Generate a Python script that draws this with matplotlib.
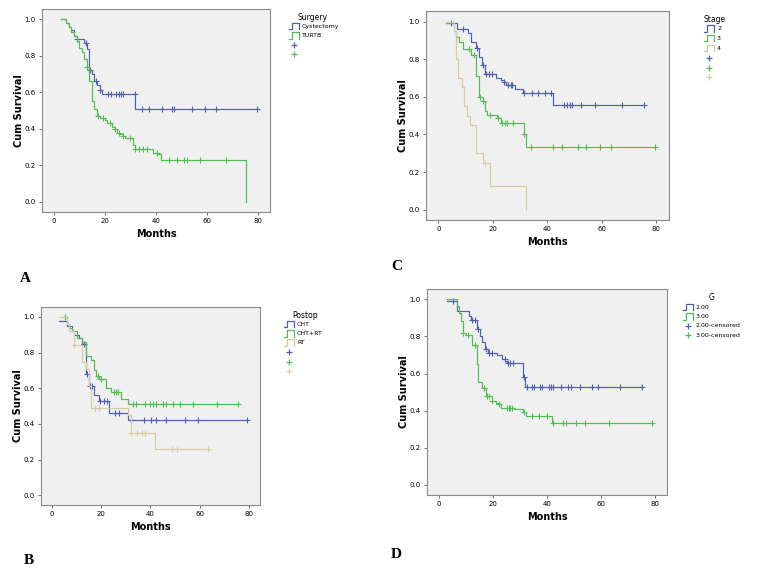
"""
Kaplan-Meier survival curves, four panels in SPSS style.
"""

import matplotlib

matplotlib.use("Agg")
import matplotlib.pyplot as plt
import numpy as np
from matplotlib.lines import Line2D

W, H = 760, 573

BLUE = "#4e5fb0"
GREEN = "#52bb52"
TAN = "#d6cba3"

# --- A: Surgery ---
a_cyst_t = [3, 5, 6, 7, 8, 9, 12, 13, 14, 15, 16, 17, 18, 19, 32]
a_cyst_s = [1.0, 0.98, 0.96, 0.94, 0.91, 0.89, 0.87, 0.835, 0.72, 0.70, 0.66, 0.64, 0.61, 0.59, 0.51]
a_cyst_end = 79
a_cyst_cens = [9, 12.5, 14.1, 16.5, 18, 21.3, 22.4, 24.6, 25.5, 26.3, 27, 31.8,
               34.4, 37.3, 42.2, 46.2, 47.1, 54.2, 59.2, 63.4, 79.5]

a_turb_t = [3, 5, 6, 7, 8, 9, 10, 11, 12, 13, 14, 15, 16, 17, 18, 20, 21, 23, 24,
            25, 26, 27, 28, 31, 32, 39, 41, 42, 75.3]
a_turb_s = [1.0, 0.98, 0.96, 0.93, 0.91, 0.88, 0.84, 0.82, 0.78, 0.74, 0.66, 0.55, 0.51,
            0.47, 0.46, 0.45, 0.43, 0.41, 0.40, 0.38, 0.37, 0.36, 0.35, 0.31, 0.29, 0.27,
            0.26, 0.23, 0.0]
a_turb_end = 75.3
a_turb_cens = [13, 17.4, 19.3, 22, 24, 25.5, 27, 30, 32, 33.5, 35, 36.6, 40.5,
               45.2, 48.1, 51.1, 52, 57.3, 67.5]

# --- B: Postop ---
b_cht_t = [3, 6, 8, 9, 11, 12, 14, 15, 17, 19, 23, 31]
b_cht_s = [0.98, 0.95, 0.92, 0.90, 0.88, 0.85, 0.68, 0.61, 0.56, 0.53, 0.46, 0.42]
b_cht_end = 79.4
b_cht_cens = [13, 14.4, 15.3, 16.4, 19.4, 21, 22.5, 25.5, 27.1, 32.2, 37.3, 40.4,
              42.2, 46.5, 54.1, 59.2, 79.4]

b_chtrt_t = [4, 6, 7, 8, 10, 12, 14, 16, 17, 18, 19, 22, 24, 28, 31]
b_chtrt_s = [1.0, 0.96, 0.94, 0.92, 0.88, 0.86, 0.78, 0.76, 0.70, 0.67, 0.65, 0.60, 0.58, 0.54, 0.51]
b_chtrt_end = 75.5
b_chtrt_cens = [5.2, 18.5, 20, 25, 26, 27, 33, 34.3, 37.7, 40, 41, 42.4, 45.1, 46.5,
                49.2, 52, 57.2, 67.2, 75.5]

b_rt_t = [3, 6, 7, 9, 12, 14, 15, 16, 31, 32, 42]
b_rt_s = [1.0, 0.96, 0.92, 0.84, 0.75, 0.71, 0.61, 0.49, 0.45, 0.35, 0.26]
b_rt_end = 63.5
b_rt_cens = [9, 17.4, 19, 32, 34.4, 36.4, 38, 48.7, 50.9, 63.5]

# --- C: Stage ---
c_s2_t = [3, 7, 11, 12, 14, 15, 16, 17, 21, 23, 24, 25, 28, 31, 42.1]
c_s2_s = [0.99, 0.96, 0.94, 0.89, 0.86, 0.81, 0.77, 0.72, 0.70, 0.69, 0.68, 0.665, 0.64, 0.62, 0.555]
c_s2_end = 75.6
c_s2_cens = [4.7, 8.9, 14.2, 16.3, 17.5, 18.6, 19.6, 24.2, 25.7, 26.5, 27.2, 31.6,
             34.5, 36.5, 39.2, 41.4, 46.2, 47.2, 48.2, 49.2, 52.4, 57.4, 67.4, 75.6]

c_s3_t = [3, 5.6, 6.5, 7.7, 9, 12.1, 13.8, 15, 16.3, 17.1, 18, 21.4, 22.9, 31.3, 32.2]
c_s3_s = [0.99, 0.95, 0.917, 0.89, 0.855, 0.82, 0.713, 0.60, 0.58, 0.527, 0.504, 0.486,
          0.46, 0.40, 0.335]
c_s3_end = 79.4
c_s3_cens = [11.1, 13, 15.2, 16.4, 19, 21.8, 23.4, 24.3, 25.2, 27.3, 31.6, 34,
             42.1, 45.4, 51.3, 54.2, 59.2, 63.4, 79.4]

c_s4_t = [3, 5.6, 6.5, 7.3, 8.6, 9.3, 10.7, 11.7, 13.8, 16.3, 19.1, 32.2]
c_s4_s = [1.0, 0.95, 0.80, 0.70, 0.65, 0.55, 0.50, 0.45, 0.30, 0.25, 0.125, 0.0]
c_s4_end = 32.2
c_s4_cens = [17.1]

# --- D: G ---
d_g2_t = [3, 6.5, 11, 12, 14, 15.2, 16.1, 17.1, 18, 21.4, 23.2, 24.5, 25.1, 31, 32]
d_g2_s = [0.99, 0.94, 0.91, 0.89, 0.84, 0.80, 0.77, 0.735, 0.713, 0.70, 0.68, 0.67,
          0.655, 0.584, 0.528]
d_g2_end = 75.3
d_g2_cens = [5.3, 12.3, 13.2, 14.4, 17.4, 18.6, 19.5, 24.4, 25.6, 26.4, 27.3, 31.4,
             32.5, 34.3, 35.2, 37.4, 38.3, 40.7, 41.7, 42.3, 45.1, 47.9, 48.8, 52.2,
             56.9, 59, 67, 75.3]

d_g3_t = [3, 6.5, 7.2, 8.1, 9, 10, 12.1, 14, 14.6, 16.1, 17.3, 19.5, 21, 22, 23.1,
          27.8, 31, 32.2, 41.9]
d_g3_s = [1.0, 0.966, 0.926, 0.885, 0.818, 0.807, 0.753, 0.65, 0.555, 0.524, 0.479,
          0.45, 0.443, 0.434, 0.416, 0.407, 0.395, 0.371, 0.331]
d_g3_end = 79.1
d_g3_cens = [9, 10.9, 13.3, 16.6, 17.6, 18.4, 19.8, 22.3, 25.3, 25.9, 26.4, 26.9,
             31.4, 34.3, 37, 40, 42.1, 46, 47, 51, 54.1, 63.1, 79.1]


def fx(x):
    return x / W


def fy(y):
    return 1 - y / H


def km_panel(ax, curves):
    """Draw step curves with censor ticks, SPSS-like frame."""
    ax.set_facecolor("#f0f0f0")
    for t, s, end, cens, color in curves:
        tt = list(t) + [end]
        ss = list(s) + [s[-1]]
        ax.step(tt, ss, where="post", color=color, lw=0.85)
        idx = np.searchsorted(t, cens, side="right") - 1
        cy = np.array(s)[np.clip(idx, 0, None)]
        ax.plot(cens, cy, ls="none", marker="+", ms=4, mew=0.8, color=color)
    ax.set_xlim(-4.5, 84.6)
    ax.set_ylim(-0.055, 1.056)
    ax.set_xticks([0, 20, 40, 60, 80])
    ax.set_yticks([0.0, 0.2, 0.4, 0.6, 0.8, 1.0])
    ax.set_yticklabels(["0.0", "0.2", "0.4", "0.6", "0.8", "1.0"])
    ax.tick_params(labelsize=5, length=2.5, width=0.6, color="#555555", pad=2)
    for sp in ax.spines.values():
        sp.set_color("#8a8a8a")
        sp.set_linewidth(0.8)
    ax.set_xlabel("Months", fontsize=7, fontweight="bold", labelpad=3.5)
    ax.set_ylabel("Cum Survival", fontsize=7, fontweight="bold", labelpad=0.5)


def legend(fig, x, y, title, rows, step=9.5, title_x=None):
    """SPSS-style legend: step glyphs for lines, plus marks for censored."""
    tx = x + 8 if title_x is None else title_x
    fig.text(fx(tx), fy(y), title, fontsize=5.5, va="center", ha="left")
    for i, (kind, color, label) in enumerate(rows):
        yy = y + (i + 1) * step
        if kind == "line":
            xs = [x, x + 3, x + 3, x + 10, x + 10]
            ys = [yy + 3, yy + 3, yy - 3.5, yy - 3.5, yy + 3]
            fig.add_artist(Line2D([fx(v) for v in xs], [fy(v) for v in ys],
                                  color=color, lw=0.9, transform=fig.transFigure))
        else:
            fig.add_artist(Line2D([fx(x + 5)], [fy(yy)], marker="+", ms=5, mew=0.9,
                                  color=color, ls="none", transform=fig.transFigure))
        if label:
            fig.text(fx(x + 13), fy(yy), label, fontsize=4.5, va="center", ha="left")


fig = plt.figure(figsize=(W / 100, H / 100), dpi=100)
fig.patch.set_facecolor("white")


def add_axes(x0, y0, x1, y1):
    return fig.add_axes([fx(x0), fy(y1), (x1 - x0) / W, (y1 - y0) / H])


ax_a = add_axes(42, 9, 270, 212)
km_panel(ax_a, [
    (a_cyst_t, a_cyst_s, a_cyst_end, a_cyst_cens, BLUE),
    (a_turb_t, a_turb_s, a_turb_end, a_turb_cens, GREEN),
])
legend(fig, 289, 17, "Surgery", [
    ("line", BLUE, "Cystectomy"), ("line", GREEN, "TURTB"),
    ("cens", BLUE, ""), ("cens", GREEN, ""),
], step=9.3)

ax_c = add_axes(426, 11, 669, 220)
km_panel(ax_c, [
    (c_s2_t, c_s2_s, c_s2_end, c_s2_cens, BLUE),
    (c_s3_t, c_s3_s, c_s3_end, c_s3_cens, GREEN),
    (c_s4_t, c_s4_s, c_s4_end, c_s4_cens, TAN),
])
legend(fig, 704, 19, "Stage", [
    ("line", BLUE, "2"), ("line", GREEN, "3"), ("line", TAN, "4"),
    ("cens", BLUE, ""), ("cens", GREEN, ""), ("cens", TAN, ""),
], step=9.7, title_x=703)

ax_b = add_axes(41, 307, 260, 505)
km_panel(ax_b, [
    (b_cht_t, b_cht_s, b_cht_end, b_cht_cens, BLUE),
    (b_chtrt_t, b_chtrt_s, b_chtrt_end, b_chtrt_cens, GREEN),
    (b_rt_t, b_rt_s, b_rt_end, b_rt_cens, TAN),
])
legend(fig, 284, 315, "Postop", [
    ("line", BLUE, "CHT"), ("line", GREEN, "CHT+RT"), ("line", TAN, "RT"),
    ("cens", BLUE, ""), ("cens", GREEN, ""), ("cens", TAN, ""),
], step=9.3)

ax_d = add_axes(427, 289, 667, 495)
km_panel(ax_d, [
    (d_g2_t, d_g2_s, d_g2_end, d_g2_cens, BLUE),
    (d_g3_t, d_g3_s, d_g3_end, d_g3_cens, GREEN),
])
legend(fig, 683, 298, "G", [
    ("line", BLUE, "2.00"), ("line", GREEN, "3.00"),
    ("cens", BLUE, "2.00-censored"), ("cens", GREEN, "3.00-censored"),
], step=9.3, title_x=709)

for letter, x, y in [("A", 20, 278), ("C", 391, 266), ("B", 24, 560), ("D", 391, 554)]:
    fig.text(fx(x), fy(y), letter, fontsize=11, fontweight="bold",
             family="Liberation Serif", va="center", ha="left")

fig.savefig("out.png", dpi=100)
